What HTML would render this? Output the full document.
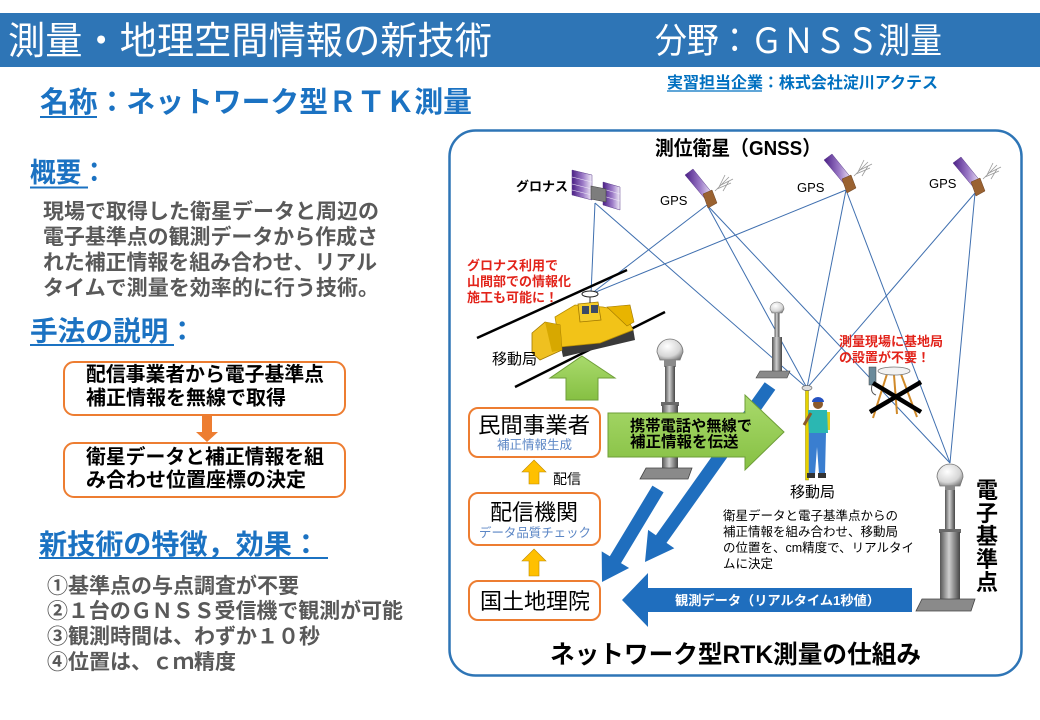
<!DOCTYPE html>
<html><head><meta charset="utf-8">
<style>
html,body{margin:0;padding:0;background:#fff;width:1040px;height:720px;overflow:hidden}
svg{display:block}
text{font-family:"Liberation Sans","Noto Sans CJK JP",sans-serif}
</style></head><body>
<svg width="1040" height="720" viewBox="0 0 1040 720" xmlns="http://www.w3.org/2000/svg">
<defs>
<linearGradient id="purp" x1="0" y1="0" x2="1" y2="0">
 <stop offset="0" stop-color="#4B1F86"/><stop offset="0.55" stop-color="#9D7CC8"/><stop offset="1" stop-color="#F3EEF9"/>
</linearGradient>
<linearGradient id="pole" x1="0" y1="0" x2="1" y2="0">
 <stop offset="0" stop-color="#555"/><stop offset="0.45" stop-color="#cfcfcf"/><stop offset="1" stop-color="#454545"/>
</linearGradient>
<radialGradient id="dome" cx="0.4" cy="0.35" r="0.75">
 <stop offset="0" stop-color="#ffffff"/><stop offset="0.65" stop-color="#d6d6d6"/><stop offset="1" stop-color="#7a7a7a"/>
</radialGradient>
<linearGradient id="grn" x1="0" y1="0" x2="0" y2="1">
 <stop offset="0" stop-color="#A9DA6C"/><stop offset="1" stop-color="#86C043"/>
</linearGradient>
<g id="gps">
 <polygon points="-22,-30 -14,-36 6,-11 -1,-5" fill="url(#purp)" stroke="#5a3a8a" stroke-width="0.5"/>
 <polygon points="-4,-11 5,-15 10,-2 1,3" fill="#9A6231" stroke="#6b4020" stroke-width="0.5"/>
 <g stroke="#9a9a9a" stroke-width="0.8" fill="none">
  <path d="M8,-14 L22,-28 M10,-16 L24,-22 M12,-18 L18,-30 M14,-20 L26,-26 M16,-14 L22,-24"/>
 </g>
</g>
</defs>

<!-- header -->
<rect x="0" y="13" width="1040" height="54" fill="#2E75B6"/>
<text x="8" y="54" font-size="38" fill="#fff" textLength="484" lengthAdjust="spacingAndGlyphs">測量・地理空間情報の新技術</text>
<text x="655" y="53" font-size="35" fill="#fff" textLength="287" lengthAdjust="spacingAndGlyphs">分野：ＧＮＳＳ測量</text>

<text x="667" y="88" font-size="16" font-weight="bold" fill="#0070C0" textLength="271" lengthAdjust="spacingAndGlyphs">実習担当企業：株式会社淀川アクテス</text>
<line x1="667" y1="91" x2="762" y2="91" stroke="#0070C0" stroke-width="1.2"/>

<text x="40" y="112" font-size="29" font-weight="bold" fill="#1B72C2" textLength="432" lengthAdjust="spacingAndGlyphs">名称：ネットワーク型ＲＴＫ測量</text>
<line x1="40" y1="117" x2="97" y2="117" stroke="#1B72C2" stroke-width="2"/>

<!-- left column -->
<text x="30" y="182" font-size="27" font-weight="bold" fill="#1B72C2" textLength="77" lengthAdjust="spacingAndGlyphs">概要：</text>
<line x1="30" y1="187.5" x2="88" y2="187.5" stroke="#1B72C2" stroke-width="2"/>
<g font-size="21" font-weight="bold" fill="#595959">
<text x="43" y="218.5" textLength="336" lengthAdjust="spacingAndGlyphs">現場で取得した衛星データと周辺の</text>
<text x="43" y="244" textLength="335" lengthAdjust="spacingAndGlyphs">電子基準点の観測データから作成さ</text>
<text x="43" y="269.5" textLength="334" lengthAdjust="spacingAndGlyphs">れた補正情報を組み合わせ、リアル</text>
<text x="43" y="295" textLength="336" lengthAdjust="spacingAndGlyphs">タイムで測量を効率的に行う技術。</text>
</g>
<text x="30" y="340.5" font-size="27.5" font-weight="bold" fill="#1B72C2" textLength="166" lengthAdjust="spacingAndGlyphs">手法の説明：</text>
<line x1="30" y1="345" x2="174" y2="345" stroke="#1B72C2" stroke-width="2"/>

<rect x="64" y="362" width="281" height="53" rx="10" fill="#fff" stroke="#ED7D31" stroke-width="2"/>
<g font-size="20" font-weight="bold" fill="#000">
<text x="86" y="381" textLength="238" lengthAdjust="spacingAndGlyphs">配信事業者から電子基準点</text>
<text x="86" y="404.5">補正情報を無線で取得</text>
</g>
<polygon points="202,415 212,415 212,432 218,432 207,442 196,432 202,432" fill="#ED7D31"/>
<rect x="64" y="443" width="281" height="54" rx="10" fill="#fff" stroke="#ED7D31" stroke-width="2"/>
<g font-size="20" font-weight="bold" fill="#000">
<text x="86" y="463.5" textLength="238" lengthAdjust="spacingAndGlyphs">衛星データと補正情報を組</text>
<text x="86" y="486.5">み合わせ位置座標の決定</text>
</g>

<text x="39" y="554" font-size="28" font-weight="bold" fill="#1B72C2" textLength="281" lengthAdjust="spacingAndGlyphs">新技術の特徴，効果：</text>
<line x1="39" y1="558" x2="328" y2="558" stroke="#1B72C2" stroke-width="2"/>
<g font-size="21" font-weight="bold" fill="#595959">
<text x="47" y="593">①基準点の与点調査が不要</text>
<text x="47" y="618" textLength="356" lengthAdjust="spacingAndGlyphs">②１台のＧＮＳＳ受信機で観測が可能</text>
<text x="47" y="643.5">③観測時間は、わずか１０秒</text>
<text x="47" y="669">④位置は、ｃｍ精度</text>
</g>

<!-- right panel -->
<rect x="449.5" y="130.5" width="572" height="545" rx="26" fill="#fff" stroke="#2E75B6" stroke-width="2.5"/>

<text x="655" y="155" font-size="20" font-weight="bold" fill="#000" textLength="166" lengthAdjust="spacingAndGlyphs">測位衛星（GNSS）</text>

<!-- satellite lines -->
<g stroke="#3F6FAF" stroke-width="1" fill="none">
 <line x1="595" y1="203" x2="591" y2="294"/>
 <line x1="595" y1="203" x2="807" y2="388"/>
 <line x1="707" y1="205" x2="591" y2="294"/>
 <line x1="707" y1="205" x2="807" y2="388"/>
 <line x1="707" y1="205" x2="950" y2="463"/>
 <line x1="846" y1="190" x2="591" y2="294"/>
 <line x1="846" y1="190" x2="807" y2="388"/>
 <line x1="846" y1="190" x2="950" y2="463"/>
 <line x1="975" y1="193" x2="807" y2="388"/>
 <line x1="975" y1="193" x2="950" y2="463"/>
</g>

<!-- satellites -->
<text x="516" y="191" font-size="13" font-weight="bold" fill="#000">グロナス</text>
<g>
 <polygon points="572,170 592,175 592,200 572,195" fill="url(#purp)" stroke="#5a3a8a" stroke-width="0.5"/>
 <g stroke="#f0eaf8" stroke-width="0.6"><line x1="572" y1="177" x2="592" y2="182"/><line x1="572" y1="184" x2="592" y2="189"/><line x1="572" y1="190" x2="592" y2="195"/></g>
 <polygon points="603,182 620,187 620,210 603,205" fill="url(#purp)" stroke="#5a3a8a" stroke-width="0.5"/>
 <g stroke="#f0eaf8" stroke-width="0.6"><line x1="603" y1="189" x2="620" y2="194"/><line x1="603" y1="196" x2="620" y2="201"/></g>
 <polygon points="591,186 606,189 606,202 591,199" fill="#7d7d7d" stroke="#444" stroke-width="0.6"/>
</g>
<text x="660" y="205" font-size="13" fill="#000">GPS</text>
<use href="#gps" transform="translate(707,205)"/>
<text x="797" y="192" font-size="13" fill="#000">GPS</text>
<use href="#gps" transform="translate(846,190)"/>
<text x="929" y="188" font-size="13" fill="#000">GPS</text>
<use href="#gps" transform="translate(975,193)"/>

<!-- red text 1 -->
<g font-size="13" font-weight="bold" fill="#E2231A">
<text x="467" y="270">グロナス利用で</text>
<text x="467" y="286">山間部での情報化</text>
<text x="467" y="302">施工も可能に！</text>
</g>

<!-- black diagonal lines -->
<line x1="477" y1="338" x2="627" y2="270" stroke="#000" stroke-width="2.5"/>
<line x1="515" y1="387" x2="665" y2="312" stroke="#000" stroke-width="2.5"/>

<!-- bulldozer -->
<g>
 <polygon points="560,342 633,328 635,340 563,357" fill="#3a3a3a"/>
 <polygon points="555,317 575,305 603,307 617,310 627,317 633,330 600,343 560,347" fill="#F2C318" stroke="#B88E00" stroke-width="0.8"/>
 <polygon points="607,307 630,305 634,322 627,326" fill="#E8B400" stroke="#A07800" stroke-width="0.6"/>
 <polygon points="578,304 598,302 601,320 580,322" fill="#F5CD2A" stroke="#A07800" stroke-width="0.8"/>
 <rect x="582" y="306" width="7" height="8" fill="#3b4a66"/>
 <rect x="591" y="305" width="7" height="8" fill="#3b4a66"/>
 <polygon points="532,333 545,322 560,325 562,350 540,360 532,353" fill="#EFC020" stroke="#A07800" stroke-width="0.8"/>
 <polygon points="545,322 560,325 562,350 552,352" fill="#D7A800"/>
 <line x1="590" y1="296" x2="590" y2="303" stroke="#333" stroke-width="1"/>
 <ellipse cx="590" cy="294" rx="8" ry="3" fill="#fff" stroke="#222" stroke-width="1"/>
</g>
<text x="492" y="364" font-size="15" fill="#000">移動局</text>

<!-- pillars -->
<g>
 <path d="M657,352 a13,13 0 0 1 26,0 l-3,8 h-20 z" fill="url(#dome)" stroke="#777" stroke-width="0.8"/>
 <rect x="664" y="360" width="12" height="7" fill="#8a8a8a"/>
 <rect x="665" y="366" width="10" height="38" fill="url(#pole)"/>
 <rect x="661" y="402" width="18" height="4" fill="#6a6a6a"/>
 <rect x="662" y="405" width="16" height="63" fill="url(#pole)"/>
 <polygon points="646,468 692,468 688,479 640,479" fill="#8a8a8a" stroke="#444" stroke-width="0.8"/>
</g>
<g>
 <path d="M770,309 a7,7 0 0 1 14,0 l-2,4 h-10 z" fill="url(#dome)" stroke="#777" stroke-width="0.6"/>
 <rect x="774.5" y="313" width="5" height="24" fill="url(#pole)"/>
 <rect x="772" y="337" width="10" height="35" fill="url(#pole)"/>
 <polygon points="760,371 790,371 787,378 756,378" fill="#8a8a8a" stroke="#444" stroke-width="0.6"/>
</g>
<g>
 <path d="M937,477 a13,13 0 0 1 26,0 l-3,9 h-20 z" fill="url(#dome)" stroke="#777" stroke-width="0.8"/>
 <rect x="945" y="486" width="10" height="6" fill="#8a8a8a"/>
 <rect x="945" y="490" width="10" height="42" fill="url(#pole)"/>
 <rect x="939" y="529" width="22" height="4" fill="#6a6a6a"/>
 <rect x="940" y="532" width="20" height="68" fill="url(#pole)"/>
 <polygon points="922,599 975,599 971,611 916,611" fill="#8a8a8a" stroke="#444" stroke-width="0.8"/>
</g>

<!-- rover person -->
<g>
 <rect x="805.5" y="389" width="3" height="91" fill="#E6D200" stroke="#9a8a00" stroke-width="0.5"/>
 <ellipse cx="807" cy="388" rx="5" ry="2.5" fill="#ddd" stroke="#666" stroke-width="0.7"/>
 <rect x="823" y="412" width="7" height="18" fill="#E0D020"/>
 <polygon points="808,410 827,410 828,433 809,433" fill="#2BB7B2"/>
 <circle cx="818" cy="404" r="5" fill="#8B5A2B"/>
 <path d="M812,402 a6,5 0 0 1 12,0 z" fill="#2552C0"/>
 <line x1="811" y1="413" x2="804" y2="425" stroke="#8B5A2B" stroke-width="3"/>
 <polygon points="809,433 826,433 825,474 819,474 817,447 815,474 809,474" fill="#3A7ED0"/>
 <rect x="807" y="473" width="8" height="5" fill="#333"/>
 <rect x="818" y="473" width="8" height="5" fill="#333"/>
</g>
<text x="790" y="497" font-size="15" fill="#000">移動局</text>

<!-- tripod -->
<g>
 <line x1="887" y1="374" x2="873" y2="418" stroke="#D08A2A" stroke-width="2"/>
 <line x1="894" y1="375" x2="897" y2="414" stroke="#D08A2A" stroke-width="2"/>
 <line x1="901" y1="374" x2="917" y2="417" stroke="#D08A2A" stroke-width="2"/>
 <ellipse cx="894" cy="371" rx="16" ry="4" fill="#f2f2f2" stroke="#777" stroke-width="0.8"/>
 <rect x="869" y="367" width="7" height="18" fill="#6a8a9a" stroke="#444" stroke-width="0.5"/>
 <path d="M872,385 q-2,8 4,10" stroke="#555" fill="none" stroke-width="1"/>
 <line x1="870" y1="412" x2="921" y2="382" stroke="#000" stroke-width="4.5"/>
 <line x1="873" y1="383" x2="921" y2="412" stroke="#000" stroke-width="4.5"/>
</g>
<g font-size="13" font-weight="bold" fill="#E2231A">
<text x="839" y="346">測量現場に基地局</text>
<text x="839" y="362">の設置が不要！</text>
</g>

<!-- blue stripes -->
<polygon points="775.3,389.8 666.5,542.9 674.3,548.3 645,562 648.1,529.9 655.9,535.3 764.7,382.2" fill="#1F6EBE"/>
<polygon points="663.6,492.4 621,563.1 629.1,568 602,582 601.7,551.4 609.8,556.3 652.4,485.6" fill="#1F6EBE"/>

<!-- green arrows -->
<polygon points="582,356 615,378 598,378 598,400 566,400 566,378 550,378" fill="url(#grn)" stroke="#6E9E38" stroke-width="1"/>
<polygon points="608,413 745,413 745,395 784,432 745,470 745,457 608,457" fill="url(#grn)" stroke="#6E9E38" stroke-width="1"/>
<g font-size="15.5" font-weight="bold" fill="#000">
<text x="630" y="431" textLength="122" lengthAdjust="spacingAndGlyphs">携帯電話や無線で</text>
<text x="630" y="447">補正情報を伝送</text>
</g>

<!-- org boxes -->
<rect x="469" y="408" width="131" height="49" rx="9" fill="#fff" stroke="#ED7D31" stroke-width="2"/>
<text x="478" y="433" font-size="22" fill="#000" textLength="112" lengthAdjust="spacingAndGlyphs">民間事業者</text>
<text x="497" y="449" font-size="12.5" fill="#5B86C5">補正情報生成</text>

<polygon points="534,460 546,472 539,472 539,484 529,484 529,472 522,472" fill="#FFC000" stroke="#C08A00" stroke-width="0.6"/>
<text x="553" y="484" font-size="14" fill="#000">配信</text>

<rect x="469" y="493" width="131" height="52" rx="9" fill="#fff" stroke="#ED7D31" stroke-width="2"/>
<text x="490" y="520" font-size="22" fill="#000">配信機関</text>
<text x="479" y="537" font-size="12.5" fill="#5B86C5" textLength="112" lengthAdjust="spacingAndGlyphs">データ品質チェック</text>

<polygon points="534,549 546,561 539,561 539,576 529,576 529,561 522,561" fill="#FFC000" stroke="#C08A00" stroke-width="0.6"/>

<rect x="469" y="581" width="131" height="39" rx="9" fill="#fff" stroke="#ED7D31" stroke-width="2"/>
<text x="480" y="609" font-size="22" fill="#000">国土地理院</text>

<!-- horizontal blue arrow -->
<polygon points="622,600 648,573 648,588 912,588 912,612 648,612 648,627" fill="#1F6EBE"/>
<text x="675" y="605" font-size="13" font-weight="bold" fill="#fff" textLength="205" lengthAdjust="spacingAndGlyphs">観測データ（リアルタイム1秒値）</text>

<!-- explanation -->
<g font-size="12.5" fill="#000">
<text x="723" y="520">衛星データと電子基準点からの</text>
<text x="723" y="536">補正情報を組み合わせ、移動局</text>
<text x="723" y="552">の位置を、cm精度で、リアルタイ</text>
<text x="723" y="568">ムに決定</text>
</g>

<!-- vertical label -->
<g font-size="22" font-weight="bold" fill="#000">
<text x="976" y="498">電</text>
<text x="976" y="521">子</text>
<text x="976" y="544">基</text>
<text x="976" y="567">準</text>
<text x="976" y="590">点</text>
</g>

<text x="550" y="663" font-size="25" font-weight="bold" fill="#000" textLength="371" lengthAdjust="spacingAndGlyphs">ネットワーク型RTK測量の仕組み</text>
</svg>
</body></html>
